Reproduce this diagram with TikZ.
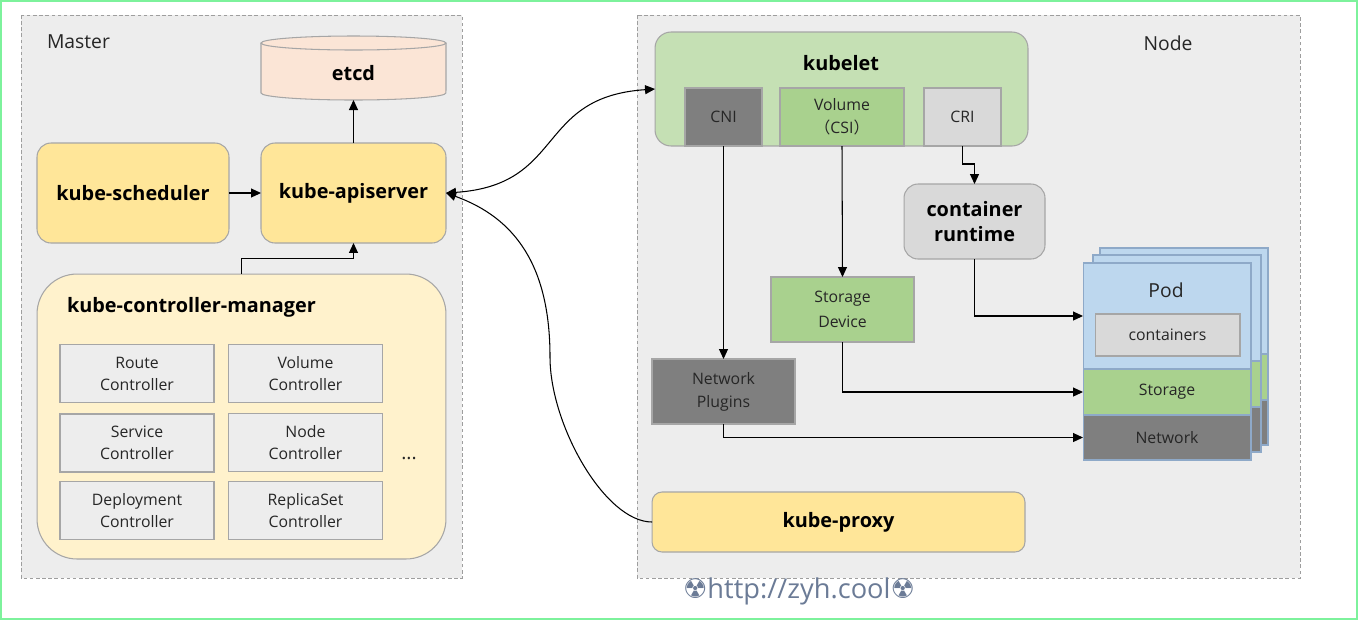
\documentclass[tikz,border=0pt]{standalone}
\usepackage{fontspec}
\setmainfont{Open Sans}
\newfontfamily\symfont{DejaVu Sans}
\newfontfamily\cjkfont{Noto Sans CJK SC}
\usetikzlibrary{arrows.meta}
\definecolor{txt}{HTML}{262626}
\definecolor{panelfill}{HTML}{EDEDED}
\definecolor{dashline}{HTML}{9E9E9E}
\definecolor{boxline}{HTML}{A6A6A6}
\definecolor{etcdfill}{HTML}{FBE5D6}
\definecolor{yel}{HTML}{FFE699}
\definecolor{lightyel}{HTML}{FFF2CC}
\definecolor{ctrlfill}{HTML}{EDEDED}
\definecolor{kubeletgreen}{HTML}{C5E0B4}
\definecolor{volgreen}{HTML}{A9D18E}
\definecolor{netgray}{HTML}{7F7F7F}
\definecolor{rtgray}{HTML}{D9D9D9}
\definecolor{podblue}{HTML}{BDD7EE}
\definecolor{podline}{HTML}{8EA9C8}
\definecolor{urlcol}{HTML}{6B7B96}
\definecolor{framegreen}{HTML}{7DF29C}

\begin{document}
\begin{tikzpicture}[x=0.02cm,y=-0.02cm,
  every node/.style={inner sep=0pt,outer sep=0pt,align=center,text=txt},
  panel/.style={fill=panelfill,draw=dashline,line width=0.5pt,dash pattern=on 2pt off 1.5pt},
  smallbox/.style={draw=boxline,line width=0.6pt,font=\fontsize{9}{12.5}\selectfont},
  ctrlbox/.style={smallbox,fill=ctrlfill,minimum width=3.08cm,minimum height=1.16cm},
  bigbox/.style={draw=boxline,line width=0.6pt,rounded corners=0.28cm,font=\bfseries\fontsize{11.3}{14.7}\selectfont,text=black},
  bold/.style={font=\bfseries\fontsize{11.3}{13}\selectfont,text=black},
  title/.style={font=\fontsize{11}{13}\selectfont},
  podpart/.style={smallbox,draw=podline,minimum width=3.36cm},
  arr/.style={draw=black,line width=0.6pt,-{Triangle[length=0.2cm,width=0.18cm]}},
  biarr/.style={arr,{Triangle[length=0.2cm,width=0.18cm]}-{Triangle[length=0.2cm,width=0.18cm]}}]

\useasboundingbox (0,0) rectangle (1358,620);
\fill[white] (0,0) rectangle (1358,620);
\draw[framegreen,line width=1.6pt] (1,1) rectangle (1357,619);

\draw[panel] (21,15) rectangle (462,578);
\draw[panel] (637,15) rectangle (1300,578);
\node[title,anchor=west] (mastertitle) at (47,42) {Master};
\node[title] (nodetitle) at (1168,43) {Node};

\node[minimum width=3.7cm,minimum height=1.28cm] (etcdbox) at (353.5,68) {};
\filldraw[draw=boxline,line width=0.6pt,fill=etcdfill] (261,43) -- (261,93) arc[start angle=180,end angle=360,x radius=1.85cm,y radius=0.14cm] -- (446,43);
\filldraw[draw=boxline,line width=0.6pt,fill=etcdfill] (353.5,43) ellipse[x radius=1.85cm,y radius=0.14cm];
\node[bold] (etcd) at (353.5,73) {etcd};

\node[bigbox,fill=yel,minimum width=3.84cm,minimum height=2cm] (sched) at (133,193) {kube-scheduler};
\node[bigbox,fill=yel,minimum width=3.7cm,minimum height=2cm] (api) at (353.5,193) {kube-apiserver};
\node[bigbox,fill=lightyel,rounded corners=0.8cm,minimum width=8.18cm,minimum height=5.7cm] (kcm) at (241.5,416.5) {};
\node[bold,anchor=west] (kcmtitle) at (67,307) {kube-controller-manager};

\node[ctrlbox] (route) at (137,373.5) {Route\\Controller};
\node[ctrlbox] (volctrl) at (305.5,373.5) {Volume\\Controller};
\node[ctrlbox] (svcctrl) at (137,443) {Service\\Controller};
\node[ctrlbox] (nodectrl) at (305.5,442.5) {Node\\Controller};
\node[ctrlbox] (deploy) at (137,510.5) {Deployment\\Controller};
\node[ctrlbox] (rsctrl) at (305.5,510.5) {ReplicaSet\\Controller};
\node[title] (more) at (409,458) {...};

\node[bigbox,fill=kubeletgreen,rounded corners=0.32cm,minimum width=7.46cm,minimum height=2.28cm] (kubelet) at (841.5,89) {};
\node[bold] (kubelettitle) at (841,63) {kubelet};
\node[smallbox,fill=netgray,minimum width=1.54cm,minimum height=1.16cm] (cni) at (723.5,117) {CNI};
\node[smallbox,fill=volgreen,minimum width=2.48cm,minimum height=1.16cm,font=\fontsize{9}{13}\selectfont] (csi) at (842,117) {Volume\\{\cjkfont （}CSI{\cjkfont ）}};
\node[smallbox,fill=rtgray,minimum width=1.54cm,minimum height=1.16cm] (cri) at (962.5,117) {CRI};
\node[bigbox,fill=rtgray,minimum width=2.82cm,minimum height=1.5cm] (runtime) at (974.5,221.5) {container\\runtime};
\node[smallbox,fill=volgreen,minimum width=2.86cm,minimum height=1.3cm,font=\fontsize{9}{14}\selectfont] (stordev) at (842.5,309.5) {Storage\\Device};
\node[smallbox,fill=netgray,minimum width=2.86cm,minimum height=1.3cm,font=\fontsize{9}{13}\selectfont] (netplug) at (723.5,391.5) {Network\\Plugins};
\node[bigbox,fill=yel,rounded corners=0.2cm,minimum width=7.46cm,minimum height=1.2cm] (proxy) at (838.5,522) {kube-proxy};

\foreach \dx/\dy in {17/15,10/8} {
  \draw[draw=podline,line width=0.6pt,fill=podblue] (1083+\dx,263-\dy) rectangle (1251+\dx,369-\dy);
  \draw[draw=podline,line width=0.6pt,fill=volgreen] (1083+\dx,369-\dy) rectangle (1251+\dx,415-\dy);
  \draw[draw=podline,line width=0.6pt,fill=netgray] (1083+\dx,415-\dy) rectangle (1251+\dx,460-\dy);
}
\node[podpart,fill=podblue,minimum height=2.12cm] (pod) at (1167,316) {};
\node[podpart,fill=volgreen,minimum height=0.92cm] (podstor) at (1167,392) {Storage};
\node[podpart,fill=netgray,minimum height=0.9cm] (podnet) at (1167,437.5) {Network};
\node[title] (podtitle) at (1166,290) {Pod};
\node[smallbox,fill=rtgray,minimum width=2.9cm,minimum height=0.84cm] (containers) at (1167.5,335) {containers};

\coordinate (proxybend) at (550,357);

\draw[arr] (sched) -- (api);
\draw[arr] (api.north) -- (etcdbox.south);
\draw[arr] (kcm.north) -- ++(0,-16) -| (api.south);
\draw[arr] (cni.south) -- (netplug.north);
\draw[arr] (csi.south) -- (stordev.north);
\draw[arr] (cri.south) -- ++(0,18) -| (runtime.north);
\draw[arr] (runtime.south) |- (pod.west);
\draw[arr] (stordev.south) |- (podstor.west);
\draw[arr] (netplug.south) |- (podnet.west);
\draw[biarr] (api.east) .. controls +(120,-8) and +(-120,8) .. (kubelet.west);
\draw[arr] (proxy.west) .. controls +(-47,0) and +(0,68) .. (proxybend) .. controls +(0,-90) and +(70,25) .. (api.east);

\node[font=\fontsize{15.5}{18}\selectfont,text=urlcol] (url) at (799,591) {{\symfont ☢}http://zyh.cool{\symfont ☢}};
\end{tikzpicture}
\end{document}
